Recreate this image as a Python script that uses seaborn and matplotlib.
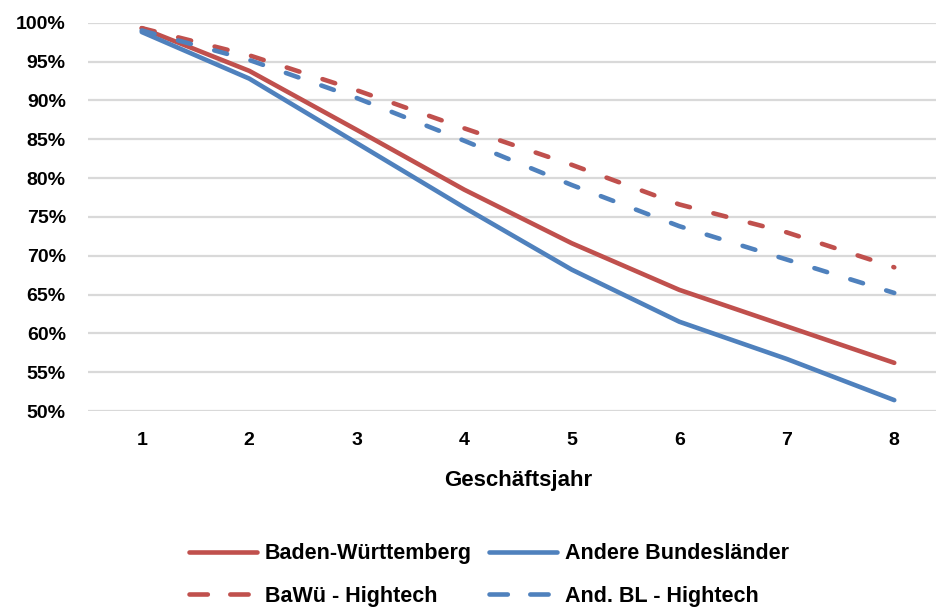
import numpy as np
import pandas as pd
import matplotlib
matplotlib.use("Agg")
import matplotlib.pyplot as plt
from matplotlib.ticker import PercentFormatter
from matplotlib.lines import Line2D
import seaborn as sns

# values (share in %)
jahre = [1, 2, 3, 4, 5, 6, 7, 8]
baden_wuerttemberg = [99.3, 93.8, 86.2, 78.5, 71.6, 65.6, 60.9, 56.2]
andere_bl = [98.8, 92.8, 84.5, 76.2, 68.2, 61.5, 56.7, 51.4]
bawue_hightech = [99.3, 95.8, 91.3, 86.4, 81.7, 76.6, 73.0, 68.5]
and_bl_hightech = [99.0, 95.2, 90.3, 84.8, 79.1, 73.8, 69.5, 65.2]

serien = ["Baden-Württemberg", "Andere Bundesländer", "BaWü - Hightech", "And. BL - Hightech"]
farben = ["#C0504D", "#4F81BD", "#C0504D", "#4F81BD"]

df = pd.DataFrame({
    "jahr": jahre * 4,
    "wert": np.array(baden_wuerttemberg + andere_bl + bawue_hightech + and_bl_hightech) / 100,
    "serie": np.repeat(serien, len(jahre)),
})

sns.set_style("white")
plt.rcParams["font.family"] = ["Liberation Sans", "DejaVu Sans"]
plt.rcParams["font.weight"] = "bold"
plt.rcParams["text.color"] = "black"
plt.rcParams["xtick.color"] = "black"
plt.rcParams["ytick.color"] = "black"
plt.rcParams["axes.labelcolor"] = "black"

fig = plt.figure(figsize=(9.37, 6.08), dpi=100)
# axes reach a bit past the right edge, like the original
ax = fig.add_axes([88 / 937, 197 / 608, 860 / 937, 388.3 / 608])

dash_style = (2.9, 5.3)
sns.lineplot(data=df, x="jahr", y="wert", hue="serie", style="serie",
             palette=dict(zip(serien, farben)),
             dashes={serien[0]: "", serien[1]: "", serien[2]: dash_style, serien[3]: dash_style},
             linewidth=3.3, ax=ax, legend=False)
for ln in ax.get_lines():
    ln.set_solid_capstyle("round")
    ln.set_dash_capstyle("round")

ax.set_xlim(0.5, 8.5)
ax.set_ylim(0.5, 1.0)
ax.set_xticks(jahre)
ax.set_yticks(np.arange(0.5, 1.001, 0.05))
ax.yaxis.set_major_formatter(PercentFormatter(1.0, decimals=0))
ax.grid(axis="y", color="#d9d9d9", linewidth=1.6)
ax.set_axisbelow(True)
for s in ax.spines.values():
    s.set_visible(False)
ax.tick_params(axis="y", length=0, labelsize=14, pad=16)
ax.tick_params(axis="x", length=0, labelsize=14, pad=15)
for t in ax.get_xticklabels() + ax.get_yticklabels():
    t.set_fontweight("bold")
ax.set_xlabel("Geschäftsjahr", fontsize=16, fontweight="bold", labelpad=15)
ax.set_ylabel("")

# legend: row 1 solid lines, row 2 dashed (matplotlib fills column-wise)
leg_dash = (4.0, 4.9)
handles = {}
for name, c in zip(serien, farben):
    ls = "-" if "Hightech" not in name else (0, leg_dash)
    handles[name] = Line2D([], [], color=c, linewidth=3.3, linestyle=ls,
                           solid_capstyle="round", dash_capstyle="round")
order = [serien[0], serien[2], serien[1], serien[3]]
leg = fig.legend([handles[n] for n in order], order, loc="center",
                 bbox_to_anchor=(0.522, 0.0545), ncol=2, frameon=False, fontsize=15.5,
                 handlelength=3.14, handletextpad=0.37, columnspacing=0.8, labelspacing=1.0)
for t in leg.get_texts():
    t.set_fontweight("bold")

fig.savefig("out.png", dpi=100)
